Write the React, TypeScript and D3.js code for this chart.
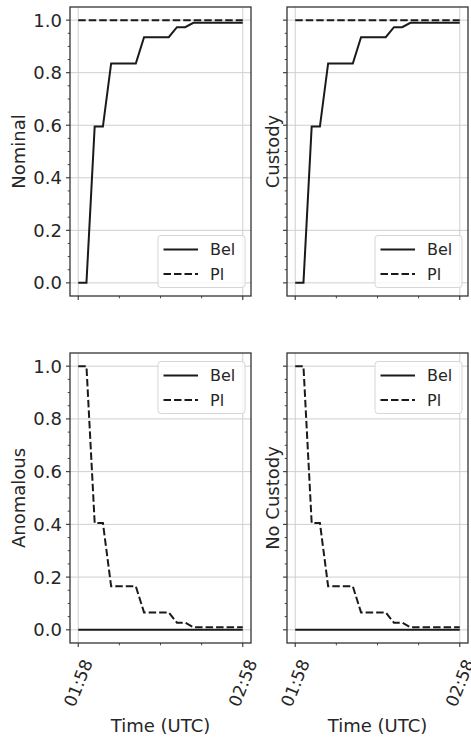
import React from "react";
import * as d3 from "d3";

// ---- data ----
const timesMin = [0, 3, 6, 9, 12, 21, 24, 33, 36, 39, 42, 60];
const nominalBel = [0, 0, 0.595, 0.595, 0.835, 0.835, 0.935, 0.935, 0.973, 0.973, 0.99, 0.99];
const nominalPl = [1, 1, 1, 1, 1, 1, 1, 1, 1, 1, 1, 1];
const custodyBel = [0, 0, 0.595, 0.595, 0.835, 0.835, 0.935, 0.935, 0.973, 0.973, 0.99, 0.99];
const custodyPl = [1, 1, 1, 1, 1, 1, 1, 1, 1, 1, 1, 1];
const anomalousBel = [0, 0, 0, 0, 0, 0, 0, 0, 0, 0, 0, 0];
const anomalousPl = [1, 1, 0.405, 0.405, 0.165, 0.165, 0.066, 0.066, 0.027, 0.027, 0.01, 0.01];
const noCustodyBel = [0, 0, 0, 0, 0, 0, 0, 0, 0, 0, 0, 0];
const noCustodyPl = [1, 1, 0.405, 0.405, 0.165, 0.165, 0.066, 0.066, 0.027, 0.027, 0.01, 0.01];
const yTickValues = [0, 0.2, 0.4, 0.6, 0.8, 1.0];
const seriesNames = ["Bel", "Pl"];
const xLabel = "Time (UTC)";
const startTime = new Date(Date.UTC(2020, 0, 1, 1, 58));

const FONT = "DejaVu Sans, sans-serif";
const TEXT = "#262626";
const LINE = "#1a1a1a";
const GRID = "#cfcfcf";
const DASH = "7.5,3";

type PanelCfg = {
  label: string;
  bel: number[];
  pl: number[];
  left: number;
  right: number;
  top: number;
  bottom: number;
  showX: boolean;
  showY: boolean;
  legendTop: boolean;
};

const panels: PanelCfg[] = [
  { label: "Nominal", bel: nominalBel, pl: nominalPl, left: 70, right: 251, top: 7, bottom: 296, showX: false, showY: true, legendTop: false },
  { label: "Custody", bel: custodyBel, pl: custodyPl, left: 287, right: 468, top: 7, bottom: 296, showX: false, showY: false, legendTop: false },
  { label: "Anomalous", bel: anomalousBel, pl: anomalousPl, left: 70, right: 251, top: 353, bottom: 643, showX: true, showY: true, legendTop: true },
  { label: "No Custody", bel: noCustodyBel, pl: noCustodyPl, left: 287, right: 468, top: 353, bottom: 643, showX: true, showY: false, legendTop: true },
];

const toDate = (m: number) => new Date(startTime.getTime() + m * 60000);

function Panel({ cfg }: { cfg: PanelCfg }) {
  const x = d3.scaleUtc().domain([toDate(-3), toDate(63)]).range([cfg.left, cfg.right]);
  const y = d3.scaleLinear().domain([-0.05, 1.05]).range([cfg.bottom, cfg.top]);
  const majorX = [toDate(0), toDate(60)];
  const minorX = [15, 30, 45].map(toDate);
  const minorY = d3.range(0, 21).map((i) => i * 0.05).filter((v) => Math.round(v * 100) % 20 !== 0);
  const fmt = d3.utcFormat("%H:%M");
  const line = d3
    .line<number>()
    .x((_, i) => x(toDate(timesMin[i])))
    .y((d) => y(d));

  const lgW = 87;
  const lgH = 52;
  const lgX = cfg.right - 6 - lgW;
  const lgY = cfg.legendTop ? cfg.top + 8.5 : cfg.bottom - 8.5 - lgH;
  const midY = (cfg.top + cfg.bottom) / 2;
  const labelX = cfg.showY ? cfg.left - 52 : cfg.left - 15;

  return (
    <g>
      {/* grid */}
      {yTickValues.map((v) => (
        <line key={"gy" + v} x1={cfg.left} x2={cfg.right} y1={y(v)} y2={y(v)} stroke={GRID} strokeWidth={1} />
      ))}
      {majorX.map((d, i) => (
        <line key={"gx" + i} x1={x(d)} x2={x(d)} y1={cfg.top} y2={cfg.bottom} stroke={GRID} strokeWidth={1} />
      ))}
      {/* series */}
      <path d={line(cfg.bel) || ""} fill="none" stroke={LINE} strokeWidth={2} />
      <path d={line(cfg.pl) || ""} fill="none" stroke={LINE} strokeWidth={2} strokeDasharray={DASH} />
      {/* frame */}
      <rect x={cfg.left} y={cfg.top} width={cfg.right - cfg.left} height={cfg.bottom - cfg.top} fill="none" stroke="#333" strokeWidth={1.3} />
      {/* y ticks */}
      {yTickValues.map((v) => (
        <line key={"ty" + v} x1={cfg.left - 4} x2={cfg.left} y1={y(v)} y2={y(v)} stroke="#333" strokeWidth={1.1} />
      ))}
      {minorY.map((v) => (
        <line key={"my" + v} x1={cfg.left - 2.3} x2={cfg.left} y1={y(v)} y2={y(v)} stroke="#333" strokeWidth={0.9} />
      ))}
      {cfg.showY &&
        yTickValues.map((v) => (
          <text key={"ly" + v} x={cfg.left - 8} y={y(v)} dy="0.36em" textAnchor="end" fontFamily={FONT} fontSize={18} fill={TEXT}>
            {v.toFixed(1)}
          </text>
        ))}
      {/* x ticks */}
      {majorX.map((d, i) => (
        <line key={"tx" + i} x1={x(d)} x2={x(d)} y1={cfg.bottom} y2={cfg.bottom + 4} stroke="#333" strokeWidth={1.1} />
      ))}
      {minorX.map((d, i) => (
        <line key={"mx" + i} x1={x(d)} x2={x(d)} y1={cfg.bottom} y2={cfg.bottom + 2.3} stroke="#333" strokeWidth={0.9} />
      ))}
      {cfg.showX &&
        majorX.map((d, i) => (
          <text
            key={"lx" + i}
            transform={`translate(${x(d)},${cfg.bottom + 40}) rotate(-68)`}
            textAnchor="middle"
            dominantBaseline="central"
            fontFamily={FONT}
            fontSize={17}
            fill={TEXT}
          >
            {fmt(d)}
          </text>
        ))}
      {cfg.showX && (
        <text x={(cfg.left + cfg.right) / 2} y={cfg.bottom + 89} textAnchor="middle" fontFamily={FONT} fontSize={18} fill={TEXT}>
          {xLabel}
        </text>
      )}
      {/* y label */}
      <text transform={`translate(${labelX},${midY}) rotate(-90)`} textAnchor="middle" dominantBaseline="central" fontFamily={FONT} fontSize={18} fill={TEXT}>
        {cfg.label}
      </text>
      {/* legend */}
      <rect x={lgX} y={lgY} width={lgW} height={lgH} rx={3} fill="white" fillOpacity={0.8} stroke="#d6d6d6" strokeWidth={1} />
      {seriesNames.map((n, i) => {
        const ly = lgY + 14 + i * 24.5;
        return (
          <g key={n}>
            <line x1={lgX + 5.5} x2={lgX + 40} y1={ly} y2={ly} stroke={LINE} strokeWidth={2} strokeDasharray={i === 1 ? DASH : undefined} />
            <text x={lgX + 52} y={ly} dy="0.36em" fontFamily={FONT} fontSize={16} fill={TEXT}>
              {n}
            </text>
          </g>
        );
      })}
    </g>
  );
}

export default function App() {
  return (
    <div style={{ position: "absolute", left: 0, top: 0 }}>
      <svg width={471} height={741} style={{ display: "block", background: "white" }}>
        {panels.map((p) => (
          <Panel key={p.label} cfg={p} />
        ))}
      </svg>
    </div>
  );
}
